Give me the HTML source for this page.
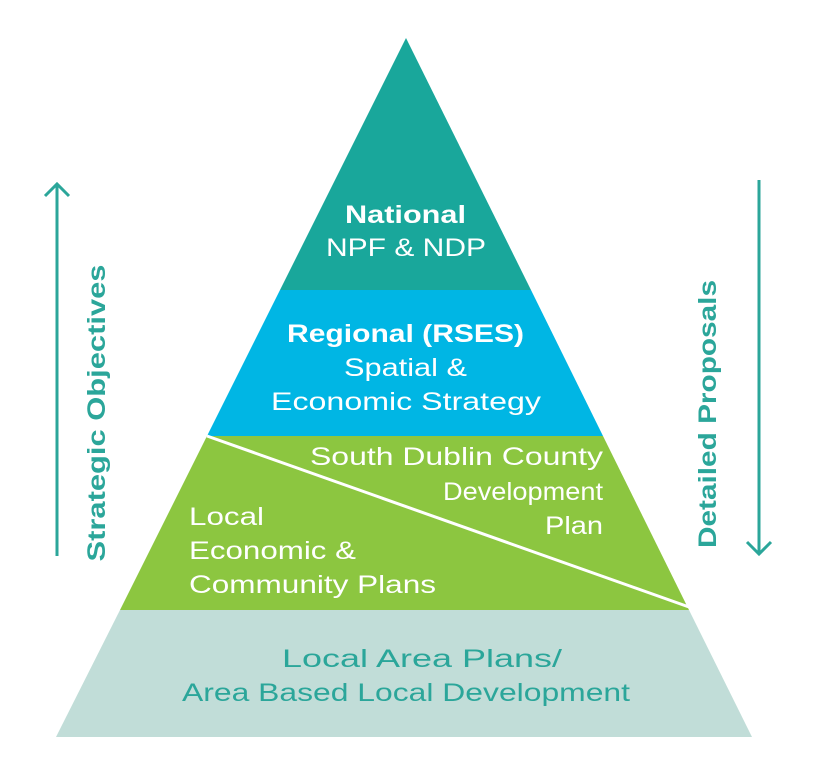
<!DOCTYPE html>
<html><head><style>
body{margin:0;background:#fff;}
svg{display:block;font-family:"Liberation Sans",sans-serif;}
</style></head><body>
<svg width="836" height="772" viewBox="0 0 836 772">
<polygon points="406,38 531,290 280,290" fill="#19a79b"/>
<polygon points="280,290 531,290 603,436 207,436" fill="#00b6e4"/>
<polygon points="207,436 603,436 689,610 120,610" fill="#8cc640"/>
<polygon points="120,610 689,610 752,737 56,737" fill="#c1ddd8"/>
<line x1="207" y1="436" x2="689" y2="607" stroke="#fff" stroke-width="3"/>
<g fill="#fff" font-size="25">
<text x="345" y="223" font-weight="bold" textLength="121" lengthAdjust="spacingAndGlyphs">National</text>
<text x="326" y="256" textLength="160" lengthAdjust="spacingAndGlyphs">NPF &amp; NDP</text>
<text x="287" y="342" font-weight="bold" textLength="237" lengthAdjust="spacingAndGlyphs">Regional (RSES)</text>
<text x="344" y="376" textLength="123" lengthAdjust="spacingAndGlyphs">Spatial &amp;</text>
<text x="271" y="410" textLength="270" lengthAdjust="spacingAndGlyphs">Economic Strategy</text>
<text x="310" y="465" textLength="293" lengthAdjust="spacingAndGlyphs">South Dublin County</text>
<text x="443" y="500" textLength="160" lengthAdjust="spacingAndGlyphs">Development</text>
<text x="545" y="534" textLength="58" lengthAdjust="spacingAndGlyphs">Plan</text>
<text x="189" y="525" textLength="75" lengthAdjust="spacingAndGlyphs">Local</text>
<text x="189" y="559" textLength="167" lengthAdjust="spacingAndGlyphs">Economic &amp;</text>
<text x="189" y="593" textLength="247" lengthAdjust="spacingAndGlyphs">Community Plans</text>
</g>
<g fill="#2ba69a" font-size="25">
<text x="282" y="667" textLength="280" lengthAdjust="spacingAndGlyphs">Local Area Plans/</text>
<text x="182" y="701" textLength="448" lengthAdjust="spacingAndGlyphs">Area Based Local Development</text>
</g>
<g stroke="#2ba69a" stroke-width="3" fill="none">
<line x1="57" y1="184" x2="57" y2="556"/>
<polyline points="45,196 57,184 69,196"/>
<line x1="759" y1="180" x2="759" y2="554"/>
<polyline points="747,542 759,554 771,542"/>
</g>
<g fill="#2ba69a" font-size="25" font-weight="bold" text-anchor="middle">
<text transform="translate(105,413) rotate(-90)" textLength="297" lengthAdjust="spacingAndGlyphs">Strategic Objectives</text>
<text transform="translate(716,414) rotate(-90)" textLength="268" lengthAdjust="spacingAndGlyphs">Detailed Proposals</text>
</g>
</svg>
</body></html>
